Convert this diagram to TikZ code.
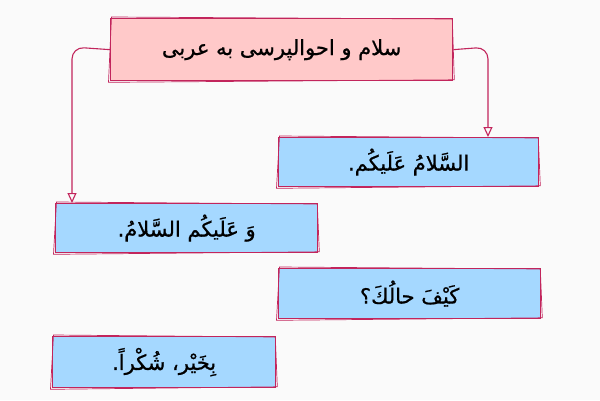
\documentclass[tikz,border=0pt]{standalone}
\usepackage{fontspec}
\usetikzlibrary{arrows.meta}
\TeXXeTstate=1
\newfontfamily\arabicfont[Script=Arabic,FakeBold=0.8]{DejaVu Sans}
\definecolor{edge}{HTML}{C2255C}
\definecolor{pinkfill}{HTML}{FFC9C9}
\definecolor{bluefill}{HTML}{A5D8FF}
\definecolor{bg}{HTML}{FAFAFA}
\tikzset{
  box/.style={draw=edge, line width=1.3pt, inner sep=0pt, anchor=north west},
  lbl/.style={font=\arabicfont\fontsize{21}{24}\selectfont, text=black},
  conn/.style={draw=edge, line width=1.1pt, rounded corners=12pt, -{Triangle[open,length=10pt,width=9pt]}}
}
\begin{document}
\begin{tikzpicture}[x=1pt,y=-1pt]
\fill[bg] (0,0) rectangle (600,400);
\useasboundingbox (0,0) rectangle (600,400);
% boxes
\node[box, fill=pinkfill, minimum width=342pt, minimum height=62pt] (top) at (110,18) {};
\node[lbl] at (top.center) {\beginR سلام و احوالپرسی به عربی\endR};
\node[box, fill=bluefill, minimum width=260pt, minimum height=49pt] (b1) at (278,137) {};
\node[lbl] at (b1.center) {\beginR السَّلامُ عَلَيكُم.\endR};
\node[box, fill=bluefill, minimum width=262pt, minimum height=49pt] (b2) at (55,203) {};
\node[lbl] at (b2.center) {\beginR وَ عَلَيكُم السَّلامُ.\endR};
\node[box, fill=bluefill, minimum width=262pt, minimum height=50pt] (b3) at (278,268) {};
\node[lbl] at (b3.center) {\beginR كَيْفَ حالُكَ؟\endR};
\node[box, fill=bluefill, minimum width=223pt, minimum height=51pt] (b4) at (52,336) {};
\node[lbl] at (b4.center) {\beginR بِخَيْر، شُكْراً.\endR};
% sketchy second strokes
\foreach \n in {top,b1,b2,b3,b4}{
  \draw[edge, line width=0.7pt] ([shift={(1.5,-1)}]\n.north west) -- ([shift={(-1,1)}]\n.north east) -- ([shift={(1,-1.5)}]\n.south east) -- ([shift={(-1.5,1)}]\n.south west) -- cycle;
}
% connectors
\coordinate (rt) at (488,47);
\coordinate (lt) at (72,47);
\draw[conn] (top.east) -- (rt) -- (b1.north -| rt);
\draw[conn] (top.west) -- (lt) -- (b2.north -| lt);
\end{tikzpicture}
\end{document}
